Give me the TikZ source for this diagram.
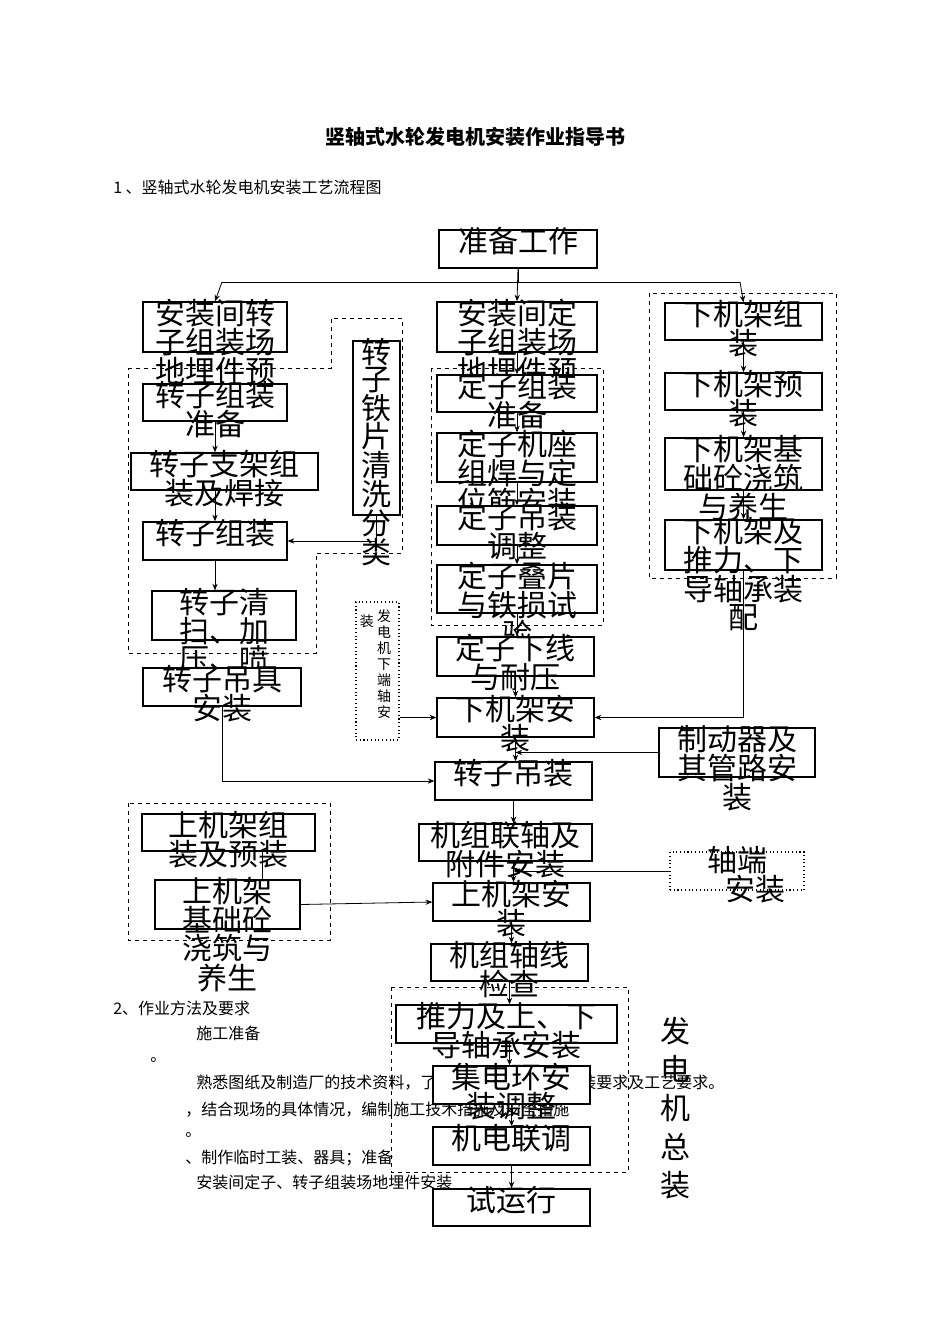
\documentclass[tikz,border=0pt]{standalone}
\usepackage{fontspec}
\setmainfont{Noto Sans CJK SC}
\usetikzlibrary{arrows.meta}
\tikzset{
  boxst/.style={draw=black,fill=white,line width=1pt,inner sep=0pt},
  txt/.style={inner sep=0pt,align=center,font=\fontsize{22.5pt}{13.5pt}\selectfont},
  grp/.style={draw=black,dashed,line width=0.7pt},
  dotgrp/.style={draw=black,dotted,line width=0.8pt},
  arr/.style={-{Stealth[length=5pt,width=4pt]},line width=0.6pt},
  ln/.style={line width=0.6pt},
  body/.style={inner sep=0pt,anchor=west,font=\fontsize{12pt}{14pt}\selectfont},
}
\newcommand\bx[6]{%
  \node[boxst,minimum width={(#4-#2)*0.75pt},minimum height={(#5-#3)*0.75pt}] (#1) at ({(#2+#4)/2},{(#3+#5)/2}) {};
  \node[txt,anchor=north] (#1t) at ([yshift=2pt]#1.north) {#6};}
\begin{document}
\begin{tikzpicture}[x=0.75pt,y=-0.75pt]
\useasboundingbox[fill=white] (0,0) rectangle (950,1344);
% headings
\node[font=\bfseries\fontsize{15pt}{18pt}\selectfont] (title) at (475,137) {竖轴式水轮发电机安装作业指导书};
\node[body] (h1) at (113,187) {1 、竖轴式水轮发电机安装工艺流程图};
\node[body] (h2) at (113,1008) {2、作业方法及要求};
\node[body] (h3) at (196,1033) {施工准备};
\node[body] (p0) at (150,1060) {。};
\node[body] (p1) at (196,1083) {熟悉图纸及制造厂的技术资料，了解设备结构特点、安装要求及工艺要求。};
\node[body] (p2) at (185,1110) {，结合现场的具体情况，编制施工技术措施及安全措施};
\node[body] (p3) at (185,1135) {。};
\node[body] (p4) at (185,1158) {、制作临时工装、器具；准备};
\node[body] (p5) at (196,1182) {安装间定子、转子组装场地埋件安装};
% groups
\draw[grp] (128,368)--(331,368)--(331,318)--(402,318)--(402,553)--(316,553)--(316,653)--(128,653)--cycle;
\draw[grp] (431,368) rectangle (603,625);
\draw[grp] (649,293) rectangle (836,578);
\draw[grp] (128,803) rectangle (330,940);
\draw[grp] (391,987) rectangle (628,1172);
% boxes
\bx{top}{439}{230}{597}{268}{准备工作}
\bx{L1}{143}{302}{287}{352}{安装间转\\子组装场\\地埋件预\\埋}
\bx{L2}{143}{384}{287}{421}{转子组装\\准备}
\bx{L3}{131}{453}{318}{490}{转子支架组\\装及焊接}
\bx{L4}{143}{522}{287}{560}{转子组装}
\bx{L5}{152}{591}{296}{640}{转子清\\扫、加\\压、喷\\漆}
\bx{L6}{143}{668}{301}{706}{转子吊具\\安装}
\bx{TP}{353}{341}{400}{515}{转\\子\\铁\\片\\清\\洗\\分\\类}
\bx{M1}{437}{302}{597}{352}{安装间定\\子组装场\\地埋件预\\埋}
\bx{M2}{437}{375}{597}{412}{定子组装\\准备}
\bx{M3}{437}{433}{597}{482}{定子机座\\组焊与定\\位筋安装}
\bx{M4}{437}{506}{597}{545}{定子吊装\\调整}
\bx{M5}{437}{565}{597}{613}{定子叠片\\与铁损试\\验}
\bx{M6}{437}{637}{594}{676}{定子下线\\与耐压}
\bx{M7}{437}{698}{594}{737}{下机架安\\装}
\bx{R1}{665}{303}{822}{340}{下机架组\\装}
\bx{R2}{665}{373}{822}{410}{下机架预\\装}
\bx{R3}{665}{438}{822}{490}{下机架基\\础砼浇筑\\与养生}
\bx{R4}{665}{520}{822}{570}{下机架及\\推力、下\\导轴承装\\配}
\bx{BR}{659}{728}{815}{777}{制动器及\\其管路安\\装}
\bx{M8}{435}{762}{592}{800}{转子吊装}
\bx{U1}{142}{814}{315}{851}{上机架组\\装及预装}
\bx{U2}{155}{880}{300}{929}{上机架\\基础砼\\浇筑与\\养生}
\bx{M9}{419}{824}{592}{861}{机组联轴及\\附件安装}
\bx{M10}{433}{883}{590}{921}{上机架安\\装}
\bx{M11}{431}{944}{588}{981}{机组轴线\\检查}
\bx{M12}{396}{1005}{617}{1043}{推力及上、下\\导轴承安装}
\bx{M13}{433}{1066}{590}{1104}{集电环安\\装调整}
\bx{M14}{433}{1127}{590}{1165}{机电联调}
\bx{M15}{433}{1189}{590}{1226}{试运行}
% dotted boxes
\node[dotgrp,fill=white,minimum width={43*0.75pt},minimum height={138*0.75pt},inner sep=0pt] (DS) at (377.5,671) {};
\node[inner sep=0pt,align=center,anchor=north,font=\fontsize{10.5pt}{12pt}\selectfont] (DSt) at ([xshift=5pt,yshift=-6pt]DS.north) {发\\电\\机\\下\\端\\轴\\安};
\node[inner sep=0pt,anchor=north,font=\fontsize{10.5pt}{12pt}\selectfont] (DSt2) at ([xshift=-8pt,yshift=-10pt]DS.north) {装};
\node[dotgrp,fill=white,minimum width={134*0.75pt},minimum height={38*0.75pt},inner sep=0pt] (ZD) at (737,871) {};
\node[txt,anchor=north] (ZDt) at ([yshift=4pt]ZD.north) {轴端\\\hspace*{1.2em}安装};
\node[inner sep=0pt,align=center,font=\fontsize{22.5pt}{29pt}\selectfont] (zz) at (675,1108) {发\\电\\机\\总\\装};
% connectors
\coordinate (b1) at (222,282); \coordinate (b2) at (740,282);
\draw[ln] (top.south) -- (518,282);
\draw[ln] (b1) -- (b2);
\draw[arr] (b1) -- (L1.north);
\draw[arr] (top.south) -- (M1.north);
\draw[arr] (b2) -- (R1.north);
\draw[arr] (L2.south) -- (L3.north -| L2.south);
\draw[arr] (L3.south -| L2.south) -- (L4.north);
\draw[arr] (L4.south) -- (L5.north -| L4.south);
\draw[arr] (TP.south) |- (L4.east);
\draw[arr] (M1.south) -- (M2.north);
\draw[arr] (M2.south) -- (M3.north);
\draw[arr] (M3.south) -- (M4.north);
\draw[arr] (M4.south) -- (M5.north);
\draw[arr] (M5.south) -- (M6.north -| M5.south);
\draw[arr] (M6.south) -- (M7.north);
\draw[arr] (R1.south) -- (R2.north);
\draw[arr] (R2.south) -- (R3.north);
\draw[arr] (R3.south) -- (R4.north);
\draw[arr] (R4.south) |- (M7.east);
\draw[arr] (DS.east |- M7.west) -- (M7.west);
\draw[arr] (M7.south) -- (M8.north -| M7.south);
\coordinate (jb) at (M7.south |- BR.west);
\draw[arr] (BR.west) -- (jb);
\draw[arr] (L6.south) |- (M8.west);
\draw[arr] (M8.south) -- (M9.north -| M8.south);
\draw[arr] (M9.south -| M8.south) -- (M10.north -| M8.south);
\coordinate (jz) at (M8.south |- ZD.west);
\draw[arr] (ZD.west) -- (jz);
\draw[ln] (U1.south -| 262,0) -- (U2.north -| 262,0);
\draw[arr] (U2.east) -- (M10.west);
\draw[arr] (M10.south) -- (M11.north -| M10.south);
\draw[arr] (M11.south) -- (M12.north -| M11.south);
\draw[arr] (M12.south -| M11.south) -- (M13.north -| M11.south);
\draw[arr] (M13.south) -- (M14.north);
\draw[arr] (M14.south) -- (M15.north);
\end{tikzpicture}
\end{document}
